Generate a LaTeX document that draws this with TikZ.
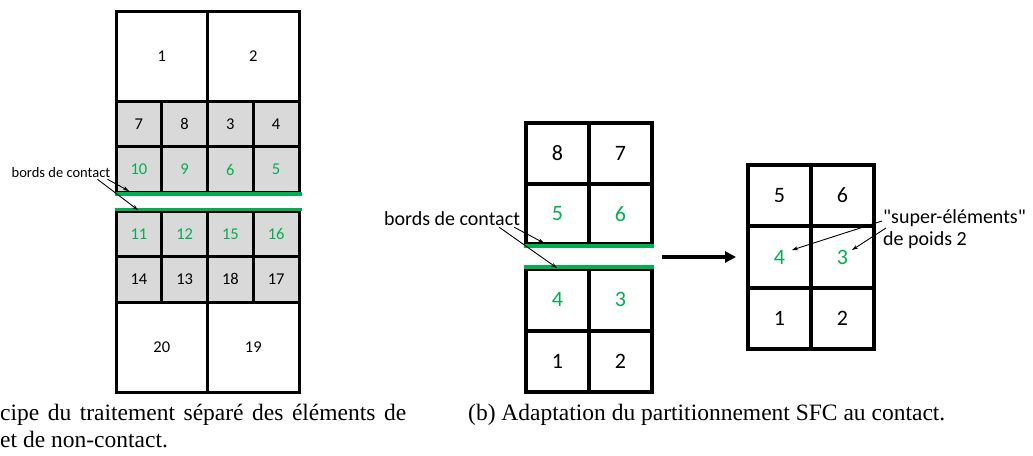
\documentclass[tikz,border=0pt]{standalone}
\usepackage{fontspec}
\setmainfont{Liberation Serif}
\newfontfamily\calibri{Carlito}
\usetikzlibrary{arrows.meta}
\definecolor{contactgreen}{HTML}{00B050}
\definecolor{cellgray}{HTML}{D9D9D9}

\begin{document}
\begin{tikzpicture}[x=1pt,y=-1pt,
  cell/.style={draw,line width=3pt,inner sep=0pt,
    font=\calibri\fontsize{16.5}{18}\selectfont},
  bigcell/.style={draw,line width=4pt,inner sep=0pt,
    minimum width=63pt,minimum height=61.5pt,
    font=\calibri\fontsize{22}{24}\selectfont},
  small cell/.style={cell,fill=cellgray,minimum width=45.75pt,minimum height=45.5pt},
  contact/.style={draw=contactgreen,line width=3.5pt},
  note/.style={inner sep=1pt,font=\calibri\fontsize{20}{22}\selectfont},
  small note/.style={inner sep=1pt,font=\calibri\fontsize{14.5}{16}\selectfont},
  pointer/.style={-{Stealth[length=6pt,width=4pt]},line width=0.9pt},
  caption/.style={inner sep=0pt,anchor=base west,font=\fontsize{23.5}{26}\selectfont}]
  \useasboundingbox (0,0) rectangle (1033,455);

  % (a) partition with contact and non-contact elements
  \node [cell,minimum width=91.5pt,minimum height=90pt] (a-1) at (161.75,56) {1};
  \node [cell,minimum width=91.5pt,minimum height=90pt] (a-2) at (253.25,56) {2};
  \foreach \lbl [count=\i] in {7,8,3,4}
    \node [small cell] (a-\lbl) at (116+45.75*\i-22.875,124) {\lbl};
  \foreach \lbl [count=\i] in {10,9,6,5}
    \node [small cell,text=contactgreen] (a-\lbl) at (116+45.75*\i-22.875,169.5) {\lbl};
  \foreach \lbl [count=\i] in {11,12,15,16}
    \node [small cell,text=contactgreen] (a-\lbl) at (116+45.75*\i-22.875,233.75) {\lbl};
  \foreach \lbl [count=\i] in {14,13,18,17}
    \node [small cell] (a-\lbl) at (116+45.75*\i-22.875,279.25) {\lbl};
  \node [cell,minimum width=91.5pt,minimum height=90pt] (a-20) at (161.75,347) {20};
  \node [cell,minimum width=91.5pt,minimum height=90pt] (a-19) at (253.25,347) {19};
  \draw [contact] (a-10.south west) -- ([xshift=1pt]a-5.south east);
  \draw [contact] (a-11.north west) -- ([xshift=1pt]a-16.north east);

  \node [small note] (bords-a) at (61,173) {bords de contact};
  \coordinate (ba-1) at (129,191);
  \coordinate (ba-2) at (138,210);
  \draw [pointer] ([xshift=-4pt]bords-a.south east) -- (ba-1);
  \draw [pointer] ([xshift=-14pt]bords-a.south east) -- (ba-2);

  % (b) SFC partition
  \node [bigcell,minimum height=60.5pt] (b-8) at (557.5,153.25) {8};
  \node [bigcell,minimum height=60.5pt] (b-7) at (620.5,153.25) {7};
  \node [bigcell,minimum height=60.5pt,text=contactgreen] (b-5) at (557.5,213.75) {5};
  \node [bigcell,minimum height=60.5pt,text=contactgreen] (b-6) at (620.5,213.75) {6};
  \node [bigcell,text=contactgreen] (b-4) at (557.5,299.75) {4};
  \node [bigcell,text=contactgreen] (b-3) at (620.5,299.75) {3};
  \node [bigcell] (b-1) at (557.5,361.25) {1};
  \node [bigcell] (b-2) at (620.5,361.25) {2};
  \draw [contact] (b-5.south west) -- (b-6.south east);
  \draw [contact] (b-4.north west) -- (b-3.north east);

  \node [note] (bords-b) at (452,219) {bords de contact};
  \coordinate (bb-1) at (544,243);
  \coordinate (bb-2) at (557,268);
  \draw [pointer] ([xshift=-7pt]bords-b.south east) -- (bb-1);
  \draw [pointer] ([xshift=-22pt]bords-b.south east) -- (bb-2);

  \coordinate (arr-s) at (662,257);
  \coordinate (arr-e) at (736,257);
  \draw [line width=3.5pt,-{Triangle[length=11pt,width=11pt]}] (arr-s) -- (arr-e);

  \node [bigcell] (c-5) at (779.5,195.5) {5};
  \node [bigcell] (c-6) at (842.5,195.5) {6};
  \node [bigcell,text=contactgreen] (c-4) at (779.5,257) {4};
  \node [bigcell,text=contactgreen] (c-3) at (842.5,257) {3};
  \node [bigcell] (c-1) at (779.5,318.5) {1};
  \node [bigcell] (c-2) at (842.5,318.5) {2};

  \node [note,anchor=west] (super) at (882,218) {"super-éléments"};
  \node [note,anchor=west] (poids) at (882,240) {de poids 2};
  \coordinate (sc-4) at (792,250);
  \coordinate (sc-3) at (852,250);
  \draw [pointer] ([yshift=-3pt]super.west) -- (sc-4);
  \draw [pointer] ([xshift=4pt,yshift=-10pt]super.west) -- (sc-3);

  % captions
  \node [caption] (cap-a1) at (0,420)
    {\hbox to 406pt{cipe du traitement séparé des éléments de}};
  \node [caption] (cap-a2) at (0,447) {et de non-contact.};
  \node [caption] (cap-b) at (468,420)
    {(b) Adaptation du partitionnement SFC au contact.};
\end{tikzpicture}
\end{document}
